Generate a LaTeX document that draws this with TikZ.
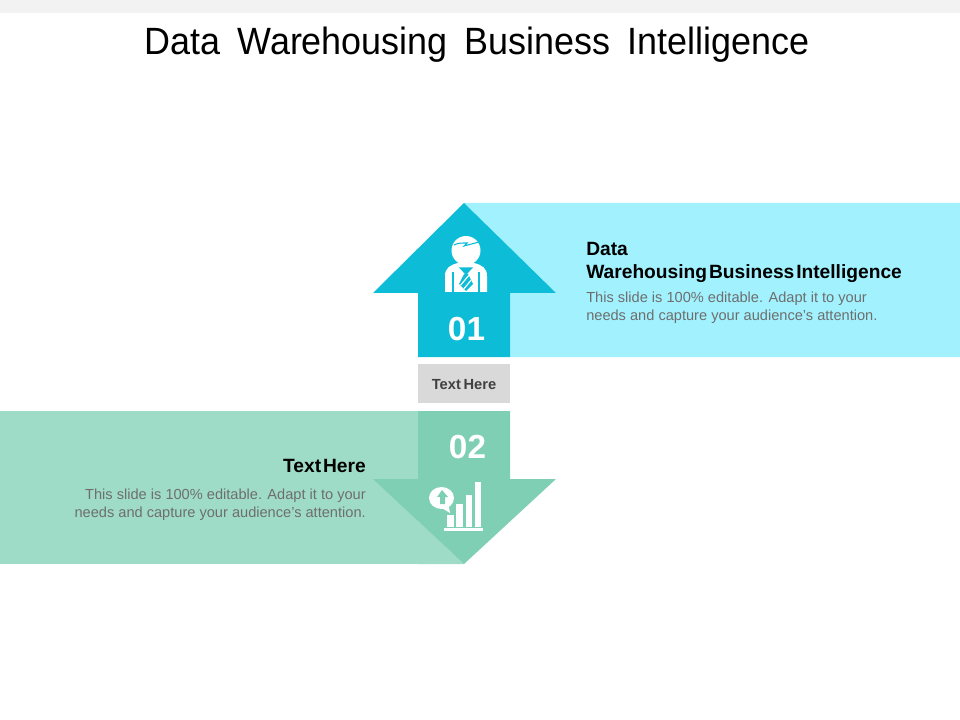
\documentclass[tikz,border=0pt]{standalone}
\usepackage{fontspec}
\setmainfont{Liberation Sans}
\usetikzlibrary{positioning}
\definecolor{topbar}{RGB}{242, 242, 242}
\definecolor{peacock}{RGB}{13, 188, 214}
\definecolor{skyfill}{RGB}{161, 242, 254}
\definecolor{mint}{RGB}{127, 207, 181}
\definecolor{mintpale}{RGB}{159, 220, 200}
\definecolor{labelgray}{RGB}{217, 217, 217}
\definecolor{bodygray}{RGB}{110, 110, 110}
\tikzset{
    titletext/.style={inner sep=0pt, xscale=0.945, font=\fontsize{28.5}{30}\selectfont\spaceskip 13.7pt\relax, text=black},
    headtext/.style={inner sep=0pt, font=\fontsize{14.4}{17.6}\selectfont\bfseries\spaceskip 1.4pt\relax, text=black},
    bodytext/.style={inner sep=0pt, font=\fontsize{10.95}{13.2}\selectfont, text=bodygray},
    numtext/.style={inner sep=0pt, font=\fontsize{25}{28}\selectfont\bfseries, text=white},
    tagtext/.style={inner sep=0pt, font=\fontsize{11}{12}\selectfont\bfseries\spaceskip 2pt\relax, text=black!75}
}
\begin{document}
\begin{tikzpicture}[x=0.75pt, y=-0.75pt]
    \useasboundingbox (0,0) rectangle (960,720);
    \fill[topbar]   (0,0) rectangle (960,13);
    % upper band and arrow
    \fill[skyfill]  (464,203) -- (960,203) -- (960,357) -- (510,357) -- (510,293) -- (556,293) -- cycle;
    \fill[peacock]  (464,203) -- (556,293) -- (510,293) -- (510,357) -- (418,357) -- (418,293) -- (373,293) -- cycle;
    % lower band and arrow
    \fill[mintpale] (0,411) rectangle (418,564);
    \fill[mintpale] (418,479) -- (373,479) -- (464,564) -- (418,564) -- cycle;
    \fill[mint]     (418,411) -- (510,411) -- (510,479) -- (556,479) -- (464,564) -- (373,479) -- (418,479) -- cycle;
    \fill[labelgray] (418,364) rectangle (510,403);
    % person
    \fill[white] (466,250.5) circle (14.5);
    \draw[peacock, line width=0.8pt] (454,245) .. controls (458,243) and (461,243) .. (467,243) -- (464,246) -- (479,242);
    \fill[white] (445,292) -- (445,276) .. controls (445,268) and (450,265) .. (458,263) -- (474,263) .. controls (482,265) and (487,268) .. (487,276) -- (487,292) -- cycle;
    \draw[peacock, line width=0.8pt] (453,272) -- (453,292) (479,272) -- (479,292);
    \fill[peacock] (459,267.5) -- (473,267.5) -- (466,275) -- cycle;
    \begin{scope}
        \clip (464,274) -- (468,274) -- (473,284) -- (466,291) -- (459,284) -- cycle;
        \fill[peacock] (455,270) rectangle (477,292);
        \draw[white, line width=0.9pt] (457,282) -- (466,271) (459,287) -- (470,274) (462,291) -- (473,278) (466,293) -- (475,283);
    \end{scope}
    % chart
    \fill[white] (447,515) rectangle (454,527);
    \fill[white] (456,504) rectangle (463,527);
    \fill[white] (466,495) rectangle (472,527);
    \fill[white] (475,482) rectangle (481,527);
    \fill[white] (444,528) rectangle (483,531);
    \fill[white] (441.5,498) ellipse (12.5 and 11);
    \fill[white] (440,507) -- (450,513) -- (448,502) -- cycle;
    \fill[mint] (442,490) -- (448,497) -- (445,497) -- (445,504) -- (440,504) -- (440,497) -- (437,497) -- cycle;
    % texts
    \node[titletext] (title) at (477,45) {Data Warehousing Business Intelligence};
    \node[headtext, anchor=north west, align=left] (headone) at (586,242) {Data\\Warehousing Business Intelligence};
    \node[bodytext, anchor=north west, align=left] (bodyone) at (586,292) {This slide is 100\% editable. Adapt it to your\\needs and capture your audience's attention.};
    \node[headtext, anchor=north east, align=right] (headtwo) at (366,459) {Text Here};
    \node[bodytext, anchor=north east, align=right] (bodytwo) at (366,489) {This slide is 100\% editable. Adapt it to your\\needs and capture your audience's attention.};
    \node[numtext] (numone) at (466.5,329) {01};
    \node[numtext] (numtwo) at (467.5,447) {02};
    \node[tagtext] (tagtext) at (464,385) {Text Here};
\end{tikzpicture}
\end{document}
